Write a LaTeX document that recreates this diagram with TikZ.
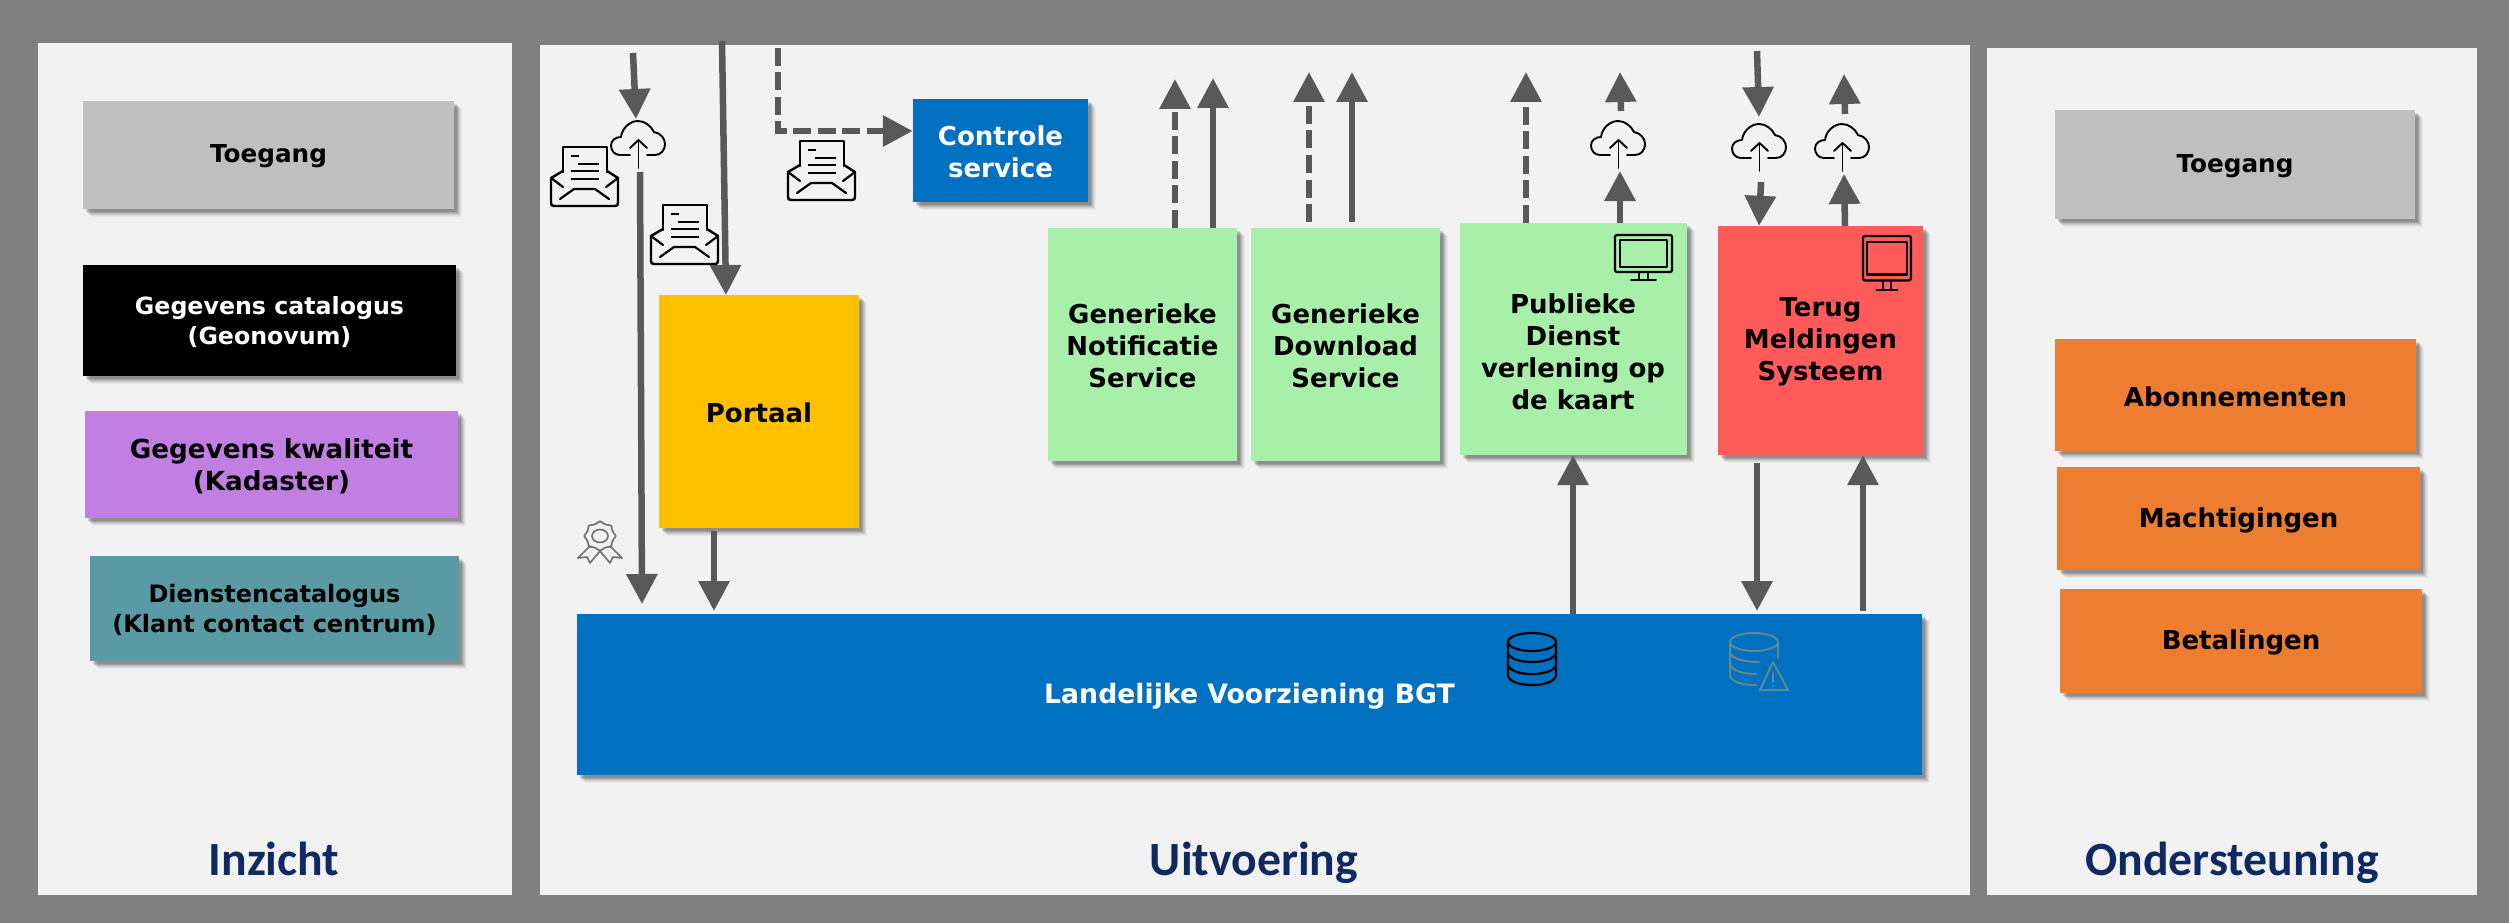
\documentclass[tikz,border=0pt]{standalone}
\usepackage{fontspec}
\setmainfont{DejaVu Sans}
\newfontfamily\titlefont{Carlito}
\usetikzlibrary{arrows.meta}
\definecolor{bggray}{HTML}{808080}
\definecolor{panelc}{HTML}{F2F2F2}
\definecolor{greyb}{HTML}{BFBFBF}
\definecolor{purpb}{HTML}{C17FE3}
\definecolor{tealb}{HTML}{5A9AA5}
\definecolor{orangeb}{HTML}{ED7D31}
\definecolor{blueb}{HTML}{0070C0}
\definecolor{yellowb}{HTML}{FFC000}
\definecolor{greenb}{HTML}{A8EFAA}
\definecolor{redb}{HTML}{FF5B5B}
\definecolor{arrowc}{HTML}{595959}
\definecolor{titlec}{HTML}{0F2A63}
\definecolor{warnc}{HTML}{5F8A92}
\tikzset{
  softshadow/.style={
    preaction={fill=black,fill opacity=.04,draw=none,transform canvas={xshift=8pt,yshift=-8pt}},
    preaction={fill=black,fill opacity=.05,draw=none,transform canvas={xshift=7pt,yshift=-7pt}},
    preaction={fill=black,fill opacity=.07,draw=none,transform canvas={xshift=6pt,yshift=-6pt}},
    preaction={fill=black,fill opacity=.09,draw=none,transform canvas={xshift=5pt,yshift=-5pt}},
    preaction={fill=black,fill opacity=.11,draw=none,transform canvas={xshift=4pt,yshift=-4pt}},
    preaction={fill=black,fill opacity=.13,draw=none,transform canvas={xshift=3pt,yshift=-3pt}}},
  boxn/.style={rectangle,inner sep=0pt,softshadow},
  boxt/.style={inner sep=0pt,align=center,font=\bfseries\fontsize{26}{32}\selectfont},
  panel/.style={rectangle,inner sep=0pt,fill=panelc},
  titlen/.style={inner sep=0pt,anchor=base,text=titlec,font=\titlefont\bfseries\fontsize{47.7}{50}\selectfont},
  conn/.style={draw=arrowc,line width=6.5pt,-{Triangle[width=30pt,length=30pt]}},
  dconn/.style={conn,dash pattern=on 18pt off 6.5pt},
  iconl/.style={line width=1.9pt,line cap=round,line join=round},
  cloudicon/.pic={
    \draw[iconl] (19,34) -- (9,34) .. controls (3,34) and (0,29) .. (0,24.5) .. controls (0,19) and (5,16) .. (10,16) .. controls (11,7) and (19,0) .. (27,0) .. controls (34,0) and (40,5) .. (43,11) .. controls (50,12) and (54,18) .. (54,23) .. controls (54,29) and (50,34) .. (44,34) -- (36,34);
    \draw[iconl] (27.5,47) -- (27.5,19);
    \draw[iconl] (19,27) -- (27.5,19) -- (36,27);
  },
  mailicon/.pic={
    \draw[iconl,line width=2.4pt] (12,25) -- (12,0) -- (56,0) -- (56,25);
    \draw[iconl,line width=2.4pt] (12,24) -- (0,31) -- (0,56) .. controls (0,58) and (1,59) .. (3,59) -- (64,59) .. controls (66,59) and (67,58) .. (67,56) -- (67,31) -- (56,24);
    \draw[iconl,line width=2.2pt] (0,31) -- (12,40) (67,31) -- (55,40);
    \draw[iconl,line width=2.2pt] (9,52) -- (23,42) -- (44,42) -- (58,52);
    \draw[line width=2pt] (20,9) -- (28,9) (27,17) -- (48,17) (20,24) -- (48,24) (20,32) -- (48,32);
  },
  screenicon/.pic={
    \draw[iconl,line width=2.2pt,rounded corners=2pt] (0,0) rectangle (57,37);
    \draw[iconl,line width=2.2pt] (5,5) rectangle (52,32);
    \draw[iconl,line width=1.9pt] (24,37) -- (24,44) (33,37) -- (33,44) (16,45) -- (41,45);
  },
  dbicon/.pic={
    \draw[iconl,line width=2.2pt] (24,9) ellipse [x radius=24,y radius=9];
    \draw[iconl,line width=2.2pt] (0,9) -- (0,43) .. controls (2,49) and (12,52) .. (24,52) .. controls (36,52) and (46,49) .. (48,43) -- (48,9);
    \draw[iconl,line width=2.2pt] (0,20) .. controls (2,26) and (12,29) .. (24,29) .. controls (36,29) and (46,26) .. (48,20);
    \draw[iconl,line width=2.2pt] (0,32) .. controls (2,38) and (12,41) .. (24,41) .. controls (36,41) and (46,38) .. (48,32);
  },
  dbwarnicon/.pic={
    \begin{scope}[draw=warnc]
    \draw[iconl,line width=2pt] (24,9) ellipse [x radius=24,y radius=9];
    \draw[iconl,line width=2pt] (0,9) -- (0,43) .. controls (2,49) and (12,52) .. (26,52);
    \draw[iconl,line width=2pt] (48,9) -- (48,25);
    \draw[iconl,line width=2pt] (0,20) .. controls (2,25) and (12,29) .. (29,29);
    \draw[iconl,line width=2pt] (0,32) .. controls (2,37) and (12,41) .. (26,41);
    \draw[iconl,line width=2pt] (43,29) -- (58,57) -- (30,57) -- cycle;
    \draw[iconl,line width=1.8pt] (43,40) -- (43,49) (43,53) -- (43,53.5);
    \end{scope}
  },
  medalicon/.pic={
    \draw[iconl,draw=arrowc!85,line width=1.7pt] plot[smooth cycle,domain=0:345,samples=24] ({22+(14.5+1.2*cos(8*\x))*cos(\x)},{15+(13.5+1.2*cos(8*\x))*sin(\x)});
    \draw[iconl,draw=arrowc!85,line width=1.7pt] (22,15) ellipse [x radius=8,y radius=6.5];
    \draw[iconl,draw=arrowc!85,line width=1.7pt] (12,25) -- (0,37) -- (9,36) -- (12,42) -- (22,30) -- (32,42) -- (35,36) -- (44,37) -- (32,25);
  }
}
% name, x1, y1, x2, y2, fill, text colour, text options, text
\newcommand{\bxn}[9]{\node[boxn,fill=#6,minimum width={#4-#2},minimum height={#5-#3}] (#1) at ({(#2+#4)/2},{(#3+#5)/2}) {};
\node[boxt,text=#7,#8] (#1t) at ([yshift=-1.5pt]#1.center) {#9}}
\begin{document}
\begin{tikzpicture}[x=1pt,y=-1pt]
\useasboundingbox (0,0) rectangle (2509,923);
\fill[bggray] (0,0) rectangle (2509,923);
% panels
\node[panel,minimum width=474,minimum height=852] (pleft) at (275,469) {};
\node[panel,minimum width=1430,minimum height=850] (pmid) at (1254.5,470) {};
\node[panel,minimum width=490,minimum height=847] (pright) at (2232,471.5) {};
% left column
\bxn{tl}{83}{101}{454}{209}{greyb}{black}{font=\bfseries\fontsize{24.7}{30}\selectfont}{Toegang};
\bxn{cat}{83}{265}{456}{376}{black}{white}{font=\bfseries\fontsize{23.7}{30}\selectfont}{Gegevens catalogus\\(Geonovum)};
\bxn{kwal}{85}{411}{458}{518}{purpb}{black}{font=\bfseries\fontsize{26.2}{32}\selectfont}{Gegevens kwaliteit\\(Kadaster)};
\bxn{dienst}{90}{556}{459}{661}{tealb}{black}{font=\bfseries\fontsize{24}{30}\selectfont}{Dienstencatalogus\\(Klant contact centrum)};
% right column
\bxn{tr}{2055}{110}{2415}{219}{greyb}{black}{font=\bfseries\fontsize{24.7}{30}\selectfont}{Toegang};
\bxn{abo}{2055}{339}{2416}{451}{orangeb}{black}{}{Abonnementen};
\bxn{macht}{2057}{467}{2420}{570}{orangeb}{black}{}{Machtigingen};
\bxn{bet}{2060}{589}{2422}{693}{orangeb}{black}{}{Betalingen};
% middle
\bxn{ctrl}{913}{99}{1088}{202}{blueb}{white}{}{Controle\\service};
\bxn{port}{659}{295}{859}{528}{yellowb}{black}{}{Portaal};
\bxn{notif}{1048}{228}{1237}{461}{greenb}{black}{}{Generieke\\Notificatie\\Service};
\bxn{down}{1251}{228}{1440}{461}{greenb}{black}{}{Generieke\\Download\\Service};
\node[boxn,fill=greenb,minimum width=227,minimum height=232] (pub) at (1573.5,339) {};
\node[boxt] (pubt) at (1573,352) {Publieke\\Dienst\\verlening op\\de kaart};
\bxn{terug}{1718}{226}{1923}{455}{redb}{black}{}{Terug\\Meldingen\\Systeem};
\bxn{lv}{577}{614}{1922}{775}{blueb}{white}{font=\bfseries\fontsize{26.7}{30}\selectfont}{Landelijke Voorziening BGT};
% titles
\node[titlen] (tin) at (274,875) {Inzicht};
\node[titlen] (tuit) at (1254,875) {Uitvoering};
\node[titlen] (tond) at (2232,875) {Ondersteuning};
% icons
\pic (cl1) at (611,121) {cloudicon};
\pic (cl2) at (1591,121) {cloudicon};
\pic (cl3) at (1732,124) {cloudicon};
\pic (cl4) at (1815,124) {cloudicon};
\pic (ml1) at (551,147) {mailicon};
\pic (ml2) at (651,205) {mailicon};
\pic (ml3) at (788,141) {mailicon};
\pic (sc1) at (1615,235) {screenicon};
\pic[xscale=.84,yscale=1.2] (sc2) at (1863,236) {screenicon};
\pic (db1) at (1508,633) {dbicon};
\pic (db2) at (1730,633) {dbwarnicon};
\pic (med) at (578,521) {medalicon};
% free ends
\coordinate (a1s) at (633,53);
\coordinate (a1t) at (636,119);
\coordinate (a2s) at (640,172);
\coordinate (a2t) at (642,604);
\coordinate (a3s) at (722,41);
\coordinate (a3t) at (726,295);
\coordinate (d1s) at (778,48);
\coordinate (d1m) at (778,131);
\coordinate (a4x) at (714,0);
\coordinate (n1t) at (1175,79);
\coordinate (n2t) at (1213,78);
\coordinate (g1t) at (1309,72);
\coordinate (g2t) at (1352,72);
\coordinate (p1t) at (1526,72);
\coordinate (p2t) at (1620,171);
\coordinate (p3s) at (1621,111);
\coordinate (p3t) at (1620,72);
\coordinate (p4x) at (1573,0);
\coordinate (t1s) at (1757,51);
\coordinate (t1t) at (1759,117);
\coordinate (t2s) at (1761,182);
\coordinate (t3t) at (1844,174);
\coordinate (t4s) at (1845,114);
\coordinate (t4t) at (1844,74);
\coordinate (t5x) at (1757,0);
\coordinate (t6x) at (1863,0);
% connectors
\draw[conn] (a1s) -- (a1t);
\draw[conn] (a2s) -- (a2t);
\draw[conn] (a3s) -- (a3t);
\draw[dconn] (d1s) -- (d1m) -- (ctrl.west |- d1m);
\draw[conn,shorten <=3pt] (a4x |- port.south) -- (a4x |- 0,611);
\draw[dconn] (n1t |- notif.north) -- (n1t);
\draw[conn] (n2t |- notif.north) -- (n2t);
\draw[dconn] (g1t |- 0,222) -- (g1t);
\draw[conn] (g2t |- 0,222) -- (g2t);
\draw[dconn] (p1t |- pub.north) -- (p1t);
\draw[conn] (p2t |- pub.north) -- (p2t);
\draw[conn] (p3s) -- (p3t);
\draw[conn] (t1s) -- (t1t);
\draw[conn] (t2s) -- (t1t |- terug.north);
\draw[conn] (t4s |- terug.north) -- (t3t);
\draw[conn] (t4s) -- (t4t);
\draw[conn] (p4x |- lv.north) -- (p4x |- pub.south);
\draw[conn,shorten <=8pt] (t5x |- terug.south) -- (t5x |- 0,611);
\draw[conn] (t6x |- 0,611) -- (t6x |- terug.south);
\end{tikzpicture}
\end{document}
